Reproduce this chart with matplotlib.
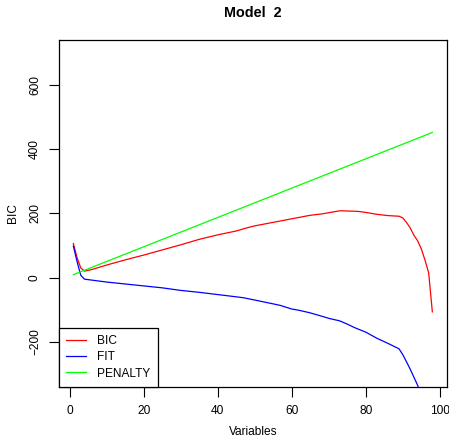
import matplotlib
matplotlib.use("Agg")
import matplotlib.pyplot as plt

plt.rcParams["font.family"] = ["Liberation Sans", "DejaVu Sans"]

# values (x = number of variables)
bic_x = [1, 2, 3, 4, 6, 10, 15, 20, 25, 30, 35, 40, 45, 47, 50, 55, 60, 65,
         68, 70, 73, 76, 78, 80, 83, 86, 89, 90, 91, 92, 93, 94, 95, 96, 97, 98]
bic_y = [106, 62, 30, 20, 25, 39, 55, 70, 86, 102, 119, 133, 145, 152, 161,
         172, 183, 194, 198, 202, 208, 207, 206, 203, 197, 193, 191, 186,
         172, 155, 132, 115, 90, 55, 15, -107]

fit_x = [1, 2, 3, 4, 6, 10, 15, 20, 25, 30, 35, 40, 45, 47, 50, 55, 57, 60,
         62, 65, 68, 70, 73, 75, 77, 80, 83, 86, 89, 90, 91, 92, 93, 94, 95,
         96, 97, 98]
fit_y = [98, 50, 7, -5, -8, -14, -20, -26, -32, -40, -46, -53, -60, -63,
         -70, -82, -87, -98, -102, -110, -120, -127, -135, -145, -156, -170,
         -189, -205, -222, -240, -262, -285, -310, -335, -365, -420, -470, -560]

pen_x = [1, 98]
pen_y = [9, 452]

title = "Model  2"
labels = ["BIC", "FIT", "PENALTY"]
colors = ["#ff0000", "#0000ff", "#00ff00"]

fig = plt.figure(figsize=(4.49, 4.38), dpi=100)
ax = fig.add_axes([0.1314, 0.1171, 0.8635, 0.7916])

lw = 0.9
ax.plot(bic_x, bic_y, color=colors[0], lw=lw, label=labels[0])
ax.plot(fit_x, fit_y, color=colors[1], lw=lw, label=labels[1])
ax.plot(pen_x, pen_y, color=colors[2], lw=lw, label=labels[2])

ax.set_xlim(1 - 0.04 * 97, 98 + 0.04 * 97)
ax.set_ylim(-300 - 40, 700 + 40)
ax.set_xticks([0, 20, 40, 60, 80, 100])
ax.set_yticks([-200, 0, 200, 400, 600])
ax.tick_params(direction="out", length=7, width=0.8, labelsize=8.6,
               pad=6, colors="black")
for lab in ax.get_yticklabels():
    lab.set_rotation(90)
    lab.set_va("center")
for sp in ax.spines.values():
    sp.set_linewidth(0.9)
    sp.set_color("black")

# axis labels and title placed like R's margin text
ax.set_xlabel("Variables", fontsize=8.6, va="center")
ax.xaxis.set_label_coords(0.5, -0.1305)
ax.set_ylabel("BIC", fontsize=8.6, va="center")
ax.yaxis.set_label_coords(-0.1186, 0.5)
fig.text(0.5 * (0.1314 + 0.9949), 1 - 12.7 / 438, title, fontsize=10.4,
         fontweight="bold", ha="center", va="center")

leg = ax.legend(loc="lower left", borderaxespad=0, fancybox=False,
                edgecolor="black", framealpha=1, fontsize=8.6,
                handlelength=1.7, handletextpad=0.9, labelspacing=0.35,
                borderpad=0.6)
leg.get_frame().set_linewidth(0.9)

fig.savefig("out.png", dpi=100)
